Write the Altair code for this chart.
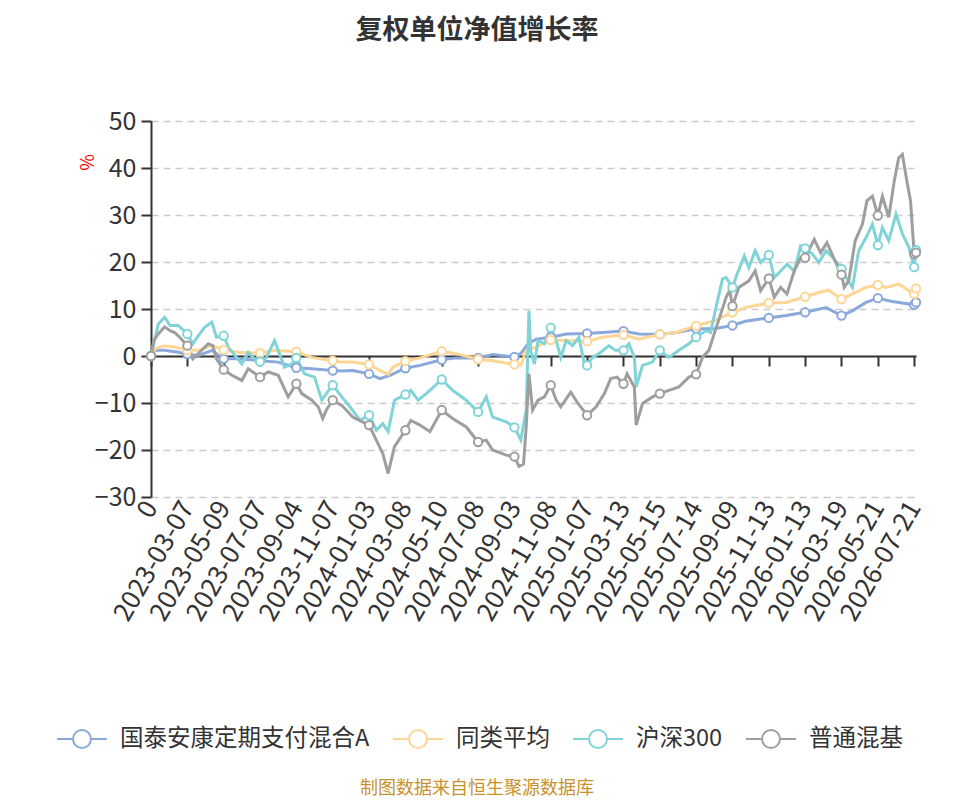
import json
import altair as alt
import pandas as pd

FONT = "Noto Sans CJK SC"

title_text = "复权单位净值增长率"
source_text = "制图数据来自恒生聚源数据库"
y_unit = "%"

series_names = ["国泰安康定期支付混合A", "同类平均", "沪深300", "普通混基"]
series_colors = ["#8aa8dc", "#fdd595", "#80d4d8", "#9e9e9e"]

tick_labels = ["0", "2023-03-07", "2023-05-09", "2023-07-07", "2023-09-04", "2023-11-07",
               "2024-01-03", "2024-03-08", "2024-05-10", "2024-07-08", "2024-09-03",
               "2024-11-08", "2025-01-07", "2025-03-13", "2025-05-15", "2025-07-14",
               "2025-09-09", "2025-11-13", "2026-01-13", "2026-03-19", "2026-05-21",
               "2026-07-21"]
tick_step = 40          # trading days between labelled ticks
last_day = 842
y_ticks = [-30, -20, -10, 0, 10, 20, 30, 40, 50]

fund_days = [0, 4, 15, 30, 40, 52, 67, 80, 96, 120, 140, 160, 177, 200, 210, 222, 240, 252, 263, 280,
             296, 320, 336, 360, 376, 400, 407, 415, 424, 440, 457, 480, 497, 520, 537, 560, 578, 600, 620, 640,
             654, 680, 699, 720, 743, 760, 772, 787, 800, 816, 840, 842]
fund_vals = [0, 1.2, 1.2, 0.8, 0.4, 0.1, 1.2, -0.6, -0.6, -1.0, -1.3, -2.5, -2.7, -3.1, -3.2, -3.1, -3.8, -4.8, -4.1, -2.6,
             -2.0, -0.8, -0.4, -0.4, 0.3, -0.2, 0.5, 2.6, 3.6, 4.0, 4.7, 4.8, 5.0, 5.3, 4.7, 4.6, 5.0, 5.8, 5.8, 6.5,
             7.4, 8.1, 8.6, 9.3, 10.3, 8.6, 9.6, 11.4, 12.3, 11.6, 10.9, 11.4]

avg_days = [0, 4, 15, 26, 40, 52, 67, 80, 96, 120, 136, 160, 177, 200, 210, 222, 240, 255, 261, 266,
            280, 296, 320, 336, 360, 376, 400, 407, 413, 424, 440, 457, 480, 497, 520, 537, 560, 578, 600, 620,
            640, 654, 680, 699, 720, 735, 746, 760, 772, 787, 800, 809, 823, 840, 842]
avg_vals = [0, 1.5, 2.2, 1.9, 1.2, 1.2, 2.2, 1.3, 0.8, 0.6, 1.2, 0.9, -0.3, -1.0, -1.3, -1.3, -1.8, -3.4, -3.9, -2.4,
            -1.1, -0.4, 1.0, 0.5, -0.7, -1.0, -1.8, -2.0, 1.2, 1.9, 3.4, 3.3, 3.1, 4.0, 4.5, 3.6, 4.6, 5.0, 6.4, 7.5,
            9.3, 10.3, 11.3, 11.4, 12.6, 13.5, 14.0, 12.1, 13.2, 14.6, 15.1, 14.6, 15.3, 13.2, 14.4]

hs_days = [0, 8, 15, 21, 30, 40, 46, 52, 59, 67, 72, 80, 85, 100, 107, 114, 120, 127, 136, 140,
           147, 155, 160, 169, 180, 188, 193, 200, 210, 219, 230, 240, 248, 255, 261, 268, 280, 286, 294, 303,
           320, 332, 347, 360, 369, 376, 391, 400, 407, 413, 416, 418, 422, 426, 433, 440, 446, 451, 457, 464,
           471, 477, 480, 486, 493, 504, 511, 520, 526, 532, 534, 541, 552, 560, 570, 581, 592, 600, 611, 616,
           621, 629, 633, 640, 645, 653, 658, 665, 671, 680, 686, 693, 700, 708, 715, 720, 728, 735, 743, 752,
           760, 765, 772, 779, 787, 794, 800, 805, 812, 820, 827, 834, 840, 842]
hs_vals = [0, 6.8, 8.2, 6.5, 6.5, 4.7, 2.6, 4.3, 6.1, 7.2, 4.0, 4.3, 1.9, -1.7, 0.8, -0.6, -1.2, -0.3, 3.3, 1.2,
           -2.4, -1.7, -0.4, -3.8, -4.5, -9.4, -8.0, -6.2, -8.7, -10.8, -13.7, -12.6, -15.8, -14.4, -16.1, -9.4, -8.2, -7.3, -9.4, -8.0,
           -5.0, -7.3, -9.4, -11.9, -8.7, -13.0, -14.0, -15.2, -17.9, -11.5, 9.6, 1.0, -1.7, 3.3, 2.6, 6.0, 3.3, -0.3, 3.3, 2.2,
           4.0, -1.7, -2.0, -0.3, 0.5, 2.2, 1.2, 1.2, 2.6, -0.3, -6.6, -2.0, -1.3, 1.2, -0.3, 1.2, 2.6, 4.0, 5.4, 5.0,
           9.6, 16.4, 16.7, 14.6, 17.4, 21.3, 18.8, 22.4, 19.9, 21.5, 16.7, 18.1, 19.5, 18.1, 23.4, 22.9, 21.7, 19.9, 22.4, 20.6,
           18.5, 16.7, 14.6, 22.4, 25.2, 28.0, 23.6, 27.3, 24.5, 30.2, 26.0, 23.2, 18.9, 22.5]

mix_days = [0, 3, 8, 15, 21, 26, 30, 40, 46, 52, 63, 68, 72, 80, 89, 100, 107, 120, 129, 140,
            151, 160, 166, 177, 184, 189, 193, 200, 210, 222, 240, 248, 255, 261, 268, 280, 286, 296, 307, 320,
            332, 347, 360, 369, 376, 391, 400, 405, 410, 413, 416, 420, 426, 433, 440, 446, 451, 462, 470, 480,
            490, 499, 506, 513, 520, 524, 532, 534, 541, 552, 560, 570, 581, 592, 600, 607, 614, 621, 627, 633,
            637, 640, 647, 658, 665, 671, 680, 686, 693, 700, 708, 715, 720, 730, 737, 744, 752, 760, 763, 768,
            775, 783, 788, 794, 800, 805, 812, 818, 823, 827, 832, 836, 840, 842]
mix_vals = [0, 3.3, 4.7, 6.2, 5.4, 5.0, 4.3, 2.2, -0.6, 0.5, 2.6, 2.2, -0.6, -2.9, -4.1, -5.2, -2.7, -4.5, -3.4, -4.1,
            -8.7, -5.9, -8.0, -9.4, -10.8, -13.3, -11.5, -9.4, -10.5, -13.0, -14.7, -17.9, -20.7, -25.0, -19.3, -15.8, -13.7, -14.7, -16.1, -11.5,
            -13.3, -15.1, -18.3, -17.9, -20.0, -21.1, -21.4, -23.5, -23.0, -15.0, -3.8, -11.5, -9.4, -8.7, -6.2, -9.4, -10.8, -7.7, -10.1, -12.6,
            -10.8, -8.0, -4.8, -4.5, -5.9, -3.8, -6.6, -14.7, -10.1, -8.7, -8.0, -7.3, -6.6, -4.5, -3.9, -0.3, 1.2, 5.4, 8.9, 12.5,
            14.0, 10.6, 14.6, 16.0, 18.1, 13.9, 16.5, 12.5, 14.6, 13.2, 18.1, 20.9, 20.9, 24.8, 22.0, 24.1, 20.6, 17.3, 14.6, 16.0,
            24.5, 28.0, 33.0, 34.0, 29.9, 34.0, 29.5, 37.2, 42.2, 42.9, 37.2, 33.0, 21.7, 22.0]

rows = []
for name, days, vals in zip(series_names,
                            [fund_days, avg_days, hs_days, mix_days],
                            [fund_vals, avg_vals, hs_vals, mix_vals]):
    for d, v in zip(days, vals):
        rows.append({"series": name, "day": d, "value": v,
                     "marker": (d % tick_step == 0) or (d == days[-1])})
df = pd.DataFrame(rows)

W, H = 765, 376
x_scale = alt.Scale(domain=[0, last_day], nice=False, zero=False)
y_scale = alt.Scale(domain=[y_ticks[0], y_ticks[-1]], nice=False)
color_scale = alt.Scale(domain=series_names, range=series_colors)
tick_vals = list(range(0, last_day + 1, tick_step))
label_expr = f"{json.dumps(tick_labels, ensure_ascii=False)}[round(datum.value / {tick_step})]"
zero_offset = -H * (0 - y_ticks[0]) / (y_ticks[-1] - y_ticks[0])

LEGEND_PATH = ("M-1,0L-0.36,0M0.36,0L1,0M-0.36,0A0.36,0.36,0,1,1,0.36,0"
               "A0.36,0.36,0,1,1,-0.36,0Z")

legend = alt.Legend(title=None, orient="none", direction="horizontal",
                    legendX=-95, legendY=592, padding=0,
                    symbolType=LEGEND_PATH, symbolSize=2500, symbolStrokeWidth=2,
                    symbolFillColor="white", labelFont=FONT, labelFontSize=23.5,
                    labelColor="#333333", labelOffset=12, columnPadding=19, labelLimit=0)

y_axis = alt.Axis(values=y_ticks, grid=True, gridDash=[7, 5], gridColor="#cccccc", gridWidth=1.5,
                  tickSize=10, tickColor="#333333", tickWidth=2,
                  domainColor="#333333", domainWidth=2,
                  labelFont=FONT, labelFontSize=25, labelColor="#333333", labelPadding=5,
                  title=y_unit, titleColor="#ff0000", titleFont=FONT, titleFontSize=18,
                  titleFontWeight="normal", titleX=-63, titleY=41, titleAngle=-90,
                  titleAlign="center", titleBaseline="middle")

x_axis_labels = alt.Axis(orient="bottom", values=tick_vals, labelExpr=label_expr, labelAngle=-60,
                         labelAlign="right", labelBaseline="middle",
                         labelFont=FONT, labelFontSize=26, labelColor="#333333", labelPadding=6,
                         labelOverlap=False, labelBound=False, labelFlush=False,
                         domain=False, ticks=False, grid=False, title=None)

x_axis_zero = alt.Axis(orient="bottom", offset=zero_offset, values=tick_vals, labels=False,
                       ticks=True, tickSize=10, tickWidth=2, tickColor="#333333",
                       domain=True, domainColor="#333333", domainWidth=2,
                       grid=False, title=None, zindex=0)

lines = alt.Chart(df).mark_line(strokeWidth=3).encode(
    x=alt.X("day:Q", scale=x_scale, axis=x_axis_labels),
    y=alt.Y("value:Q", scale=y_scale, axis=y_axis),
    color=alt.Color("series:N", scale=color_scale, legend=legend, sort=series_names),
)

points = alt.Chart(df).transform_filter("datum.marker").mark_point(
    shape="circle", filled=False, fill="white", fillOpacity=1, opacity=1, size=70, strokeWidth=2
).encode(
    x=alt.X("day:Q", scale=x_scale, axis=x_axis_zero),
    y=alt.Y("value:Q", scale=y_scale, axis=y_axis),
    color=alt.Color("series:N", scale=color_scale, legend=None, sort=series_names),
)

source = alt.Chart(pd.DataFrame({"t": [source_text]})).mark_text(
    font=FONT, fontSize=18, color="#c8922a", align="center", baseline="middle"
).encode(text="t:N", x=alt.value(326), y=alt.value(668))

chart = alt.layer(lines, points, source).resolve_axis(x="independent").properties(
    width=W, height=H,
    title=alt.TitleParams(title_text, font=FONT, fontSize=27, fontWeight="bold", color="#333333",
                          anchor="middle", frame="group", dx=-56.5, offset=64),
    autosize=alt.AutoSizeParams(type="none"),
    padding={"left": 143, "top": 113, "right": 30, "bottom": 305},
    background="white",
).configure_view(stroke=None)

chart.save("out.html", embed_options={"renderer": "svg", "actions": False})
